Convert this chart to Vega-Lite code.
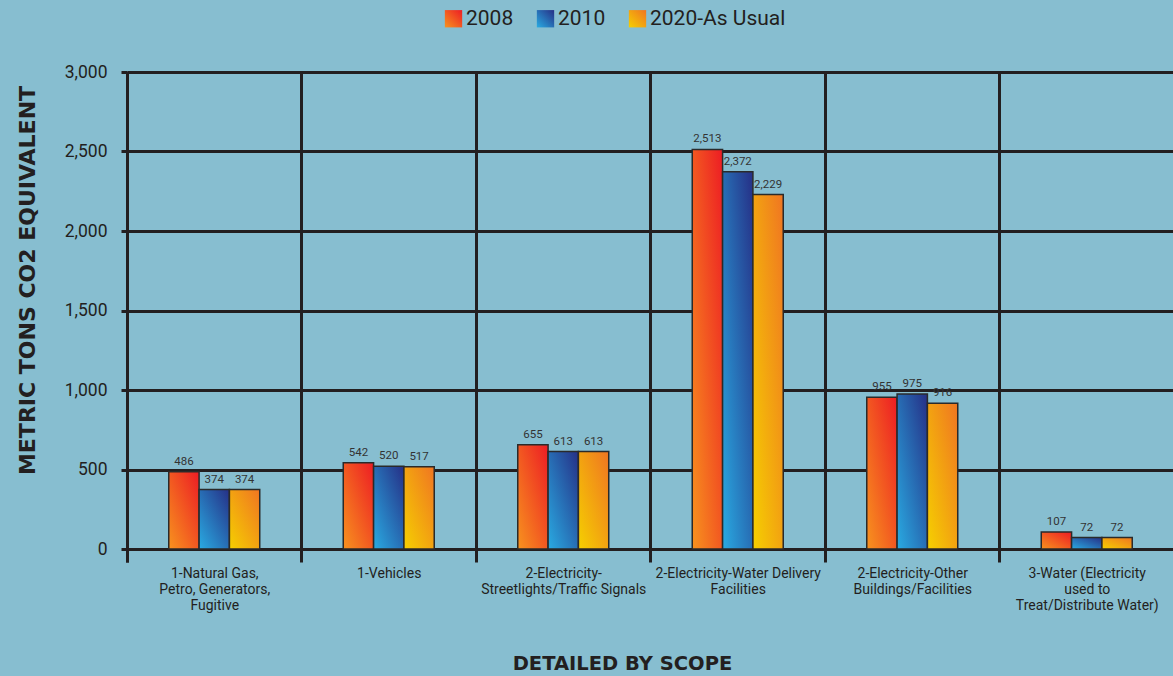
{
  "$schema": "https://vega.github.io/schema/vega-lite/v6.json",
  "width": 1047,
  "height": 477,
  "autosize": {"type": "none"},
  "padding": {"left": 127, "top": 72, "right": 0, "bottom": 127},
  "background": "#87BED0",
  "config": {"view": {"stroke": null}, "font": "Roboto"},
  "data": {
    "values": [
      {"scope": "1-Natural Gas,|Petro, Generators,|Fugitive", "series": "2008", "value": 486},
      {"scope": "1-Natural Gas,|Petro, Generators,|Fugitive", "series": "2010", "value": 374},
      {"scope": "1-Natural Gas,|Petro, Generators,|Fugitive", "series": "2020-As Usual", "value": 374},
      {"scope": "1-Vehicles", "series": "2008", "value": 542},
      {"scope": "1-Vehicles", "series": "2010", "value": 520},
      {"scope": "1-Vehicles", "series": "2020-As Usual", "value": 517},
      {"scope": "2-Electricity-|Streetlights/Traffic Signals", "series": "2008", "value": 655},
      {"scope": "2-Electricity-|Streetlights/Traffic Signals", "series": "2010", "value": 613},
      {"scope": "2-Electricity-|Streetlights/Traffic Signals", "series": "2020-As Usual", "value": 613},
      {"scope": "2-Electricity-Water Delivery|Facilities", "series": "2008", "value": 2513},
      {"scope": "2-Electricity-Water Delivery|Facilities", "series": "2010", "value": 2372},
      {"scope": "2-Electricity-Water Delivery|Facilities", "series": "2020-As Usual", "value": 2229},
      {"scope": "2-Electricity-Other|Buildings/Facilities", "series": "2008", "value": 955},
      {"scope": "2-Electricity-Other|Buildings/Facilities", "series": "2010", "value": 975},
      {"scope": "2-Electricity-Other|Buildings/Facilities", "series": "2020-As Usual", "value": 916},
      {"scope": "3-Water (Electricity|used to|Treat/Distribute Water)", "series": "2008", "value": 107},
      {"scope": "3-Water (Electricity|used to|Treat/Distribute Water)", "series": "2010", "value": 72},
      {"scope": "3-Water (Electricity|used to|Treat/Distribute Water)", "series": "2020-As Usual", "value": 72}
    ]
  },
  "encoding": {
    "x": {
      "field": "scope",
      "type": "nominal",
      "sort": null,
      "scale": {"paddingInner": 0.131, "paddingOuter": 0.0655},
      "title": "DETAILED BY SCOPE",
      "axis": {
        "labelAngle": 0,
        "labelExpr": "split(datum.label, '|')",
        "labelFont": "Roboto",
        "labelFontSize": 14,
        "labelLineHeight": 16,
        "labelColor": "#231F20",
        "labelPadding": 4,
        "labelLimit": 0,
        "bandPosition": 0,
        "tickOffset": -11.43,
        "tickExtra": true,
        "labelOffset": 11.43,
        "ticks": true,
        "tickSize": 13,
        "tickWidth": 3,
        "tickColor": "#231F20",
        "grid": true,
        "gridColor": "#231F20",
        "gridWidth": 3,
        "domain": true,
        "domainColor": "#231F20",
        "domainWidth": 3,
        "titleFont": "DejaVu Sans",
        "titleFontWeight": "bold",
        "titleFontSize": 19.5,
        "titleColor": "#231F20",
        "titleX": 495,
        "titleY": 114,
        "titleBaseline": "middle",
        "titleAlign": "center"
      }
    },
    "xOffset": {
      "field": "series",
      "type": "nominal",
      "sort": ["2008", "2010", "2020-As Usual"],
      "scale": {"paddingInner": 0, "paddingOuter": 1}
    },
    "y": {
      "field": "value",
      "type": "quantitative",
      "scale": {"domain": [0, 3000], "nice": false},
      "title": "METRIC TONS CO2 EQUIVALENT",
      "axis": {
        "values": [0, 500, 1000, 1500, 2000, 2500, 3000],
        "format": ",d",
        "labelFont": "Roboto",
        "labelFontSize": 17.5,
        "labelColor": "#231F20",
        "labelPadding": 14,
        "tickSize": 6,
        "tickWidth": 3,
        "tickColor": "#231F20",
        "domainColor": "#231F20",
        "domainWidth": 3,
        "grid": true,
        "gridColor": "#231F20",
        "gridWidth": 3,
        "titleFont": "DejaVu Sans",
        "titleFontWeight": "bold",
        "titleFontSize": 22,
        "titleColor": "#231F20",
        "titleAngle": -90,
        "titleX": -100,
        "titleY": 208,
        "titleAlign": "center",
        "titleBaseline": "middle"
      }
    }
  },
  "layer": [
    {
      "mark": {"type": "bar", "stroke": "#2a2a2a", "strokeWidth": 1.5},
      "encoding": {
        "color": {
          "field": "series",
          "type": "nominal",
          "scale": {
            "domain": ["2008", "2010", "2020-As Usual"],
            "range": [
              {"expr": "{gradient: 'linear', x1: 0, y1: 1, x2: 1, y2: 0, stops: [{offset: 0, color: '#F7931E'}, {offset: 1, color: '#ED1C24'}]}"},
              {"expr": "{gradient: 'linear', x1: 0, y1: 1, x2: 1, y2: 0, stops: [{offset: 0, color: '#29ABE2'}, {offset: 1, color: '#262F86'}]}"},
              {"expr": "{gradient: 'linear', x1: 0, y1: 1, x2: 1, y2: 0, stops: [{offset: 0, color: '#F5D000'}, {offset: 1, color: '#F07522'}]}"}
            ]
          },
          "legend": {
            "orient": "none",
            "legendX": 316,
            "legendY": -64,
            "direction": "horizontal",
            "title": null,
            "symbolType": "square",
            "symbolSize": 300,
            "symbolStrokeWidth": 0,
            "labelFont": "Roboto",
            "labelFontSize": 21,
            "labelColor": "#231F20",
            "labelOffset": 2,
            "columnPadding": 21
          }
        }
      }
    },
    {
      "mark": {"type": "text", "dy": -5, "fontSize": 11.5, "color": "#333333", "font": "Roboto", "baseline": "bottom"},
      "encoding": {"text": {"field": "value", "type": "quantitative", "format": ","}}
    }
  ]
}
